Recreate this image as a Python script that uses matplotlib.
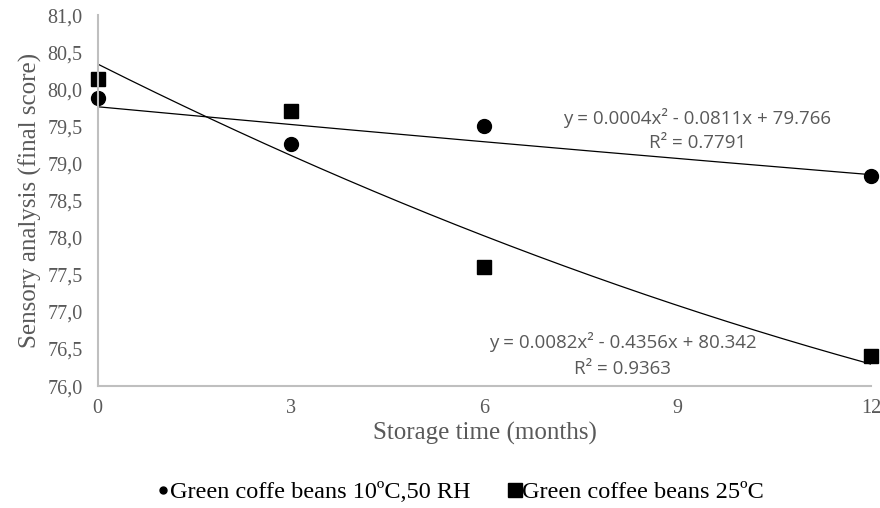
import numpy as np
import matplotlib
matplotlib.use("Agg")
import matplotlib.pyplot as plt
from matplotlib.ticker import FuncFormatter

# storage time (months) and sensory scores
months = [0, 3, 6, 12]
score_10c = [79.88, 79.26, 79.51, 78.83]
score_25c = [80.14, 79.71, 77.61, 76.40]

# trendline coefficients as printed on the chart (a, b, c for ax^2 + bx + c)
coef_10c = [0.0004, -0.0811, 79.766]
coef_25c = [0.0082, -0.4356, 80.342]
r2_10c = 0.7791
r2_25c = 0.9363

xticks = [0, 3, 6, 9, 12]
label_10c = "Green coffe beans 10ºC,50 RH"
label_25c = "Green coffee beans 25ºC"

serif = "Liberation Serif"
sans = "Open Sans"
grey = "#595959"

fig = plt.figure(figsize=(8.8, 5.08), dpi=100)
ax = fig.add_axes([0.111, 0.240, 0.879, 0.730])

xs = np.linspace(0, 12, 200)
ax.plot(xs, np.polyval(coef_10c, xs), color="black", lw=0.9)
ax.plot(xs, np.polyval(coef_25c, xs), color="black", lw=0.9)

ax.plot(months, score_10c, "o", color="black", ms=10, ls="none", label=label_10c, clip_on=False)
ax.plot(months, score_25c, "s", color="black", ms=9.5, ls="none", label=label_25c, clip_on=False)


def eq(c):
    return "y = %.4fx² - %.4fx + %.3f" % (c[0], -c[1], c[2])


txt = dict(ha="center", va="center", fontsize=13.5, color=grey, family=sans)
ax.text(9.3, 79.62, eq(coef_10c), **txt)
ax.text(9.3, 79.28, "R² = %.4f" % r2_10c, **txt)
ax.text(8.14, 76.59, eq(coef_25c), **txt)
ax.text(8.14, 76.23, "R² = %.4f" % r2_25c, **txt)

ax.set_xlim(0, 12)
ax.set_ylim(76, 81)
ax.set_xticks(xticks)
ax.set_yticks(np.arange(76, 81.01, 0.5))
ax.yaxis.set_major_formatter(FuncFormatter(lambda v, p: ("%.1f" % v).replace(".", ",")))
ax.tick_params(length=0, labelsize=14.5, labelcolor=grey)
ax.tick_params(axis="y", pad=11)
ax.tick_params(axis="x", pad=9)
for lab in ax.get_xticklabels() + ax.get_yticklabels():
    lab.set_family(serif)

for s in ["top", "right"]:
    ax.spines[s].set_visible(False)
for s in ["left", "bottom"]:
    ax.spines[s].set_color("#bfbfbf")
    ax.spines[s].set_linewidth(1.5)

ax.set_xlabel("Storage time (months)", fontsize=18, color=grey, family=serif, labelpad=3)
ax.set_ylabel("Sensory analysis (final score)", fontsize=18, color=grey, family=serif, labelpad=4)

leg = fig.legend(loc="center", bbox_to_anchor=(0.521, 0.031), ncol=2, frameon=False,
                 prop={"family": serif, "size": 17.5}, handletextpad=-0.1,
                 handlelength=0.8, columnspacing=1.4)
leg.legend_handles[0].set_markersize(5)
leg.legend_handles[1].set_markersize(9.5)

fig.savefig("out.png", dpi=100)
